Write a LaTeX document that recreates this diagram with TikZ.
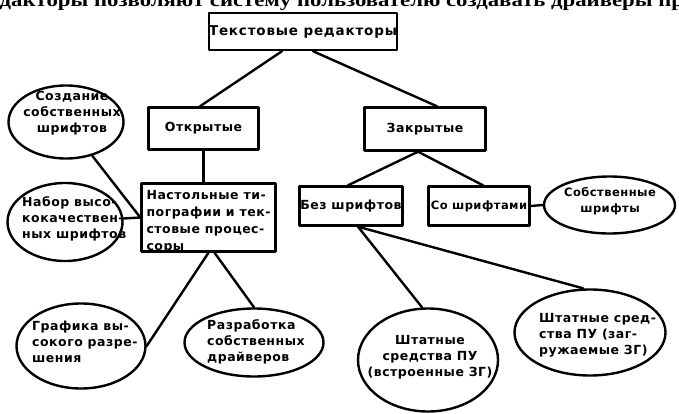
\documentclass[tikz,border=0pt]{standalone}
\usepackage{fontspec}
\usetikzlibrary{shapes.geometric}
\newfontfamily\plotfont{DejaVu Sans}[LetterSpace=4]
\newfontfamily\plotwide{DejaVu Sans}[LetterSpace=6]
\newfontfamily\pagefont{Liberation Serif}

\tikzset{
  ink/.style={line width=2.4pt, line join=round},
  box/.style={ink, draw, rectangle, inner sep=0pt,
              font=\plotfont\bfseries\fontsize{12.5}{17}\selectfont, align=left},
  oval/.style={ink, draw, ellipse, inner sep=0pt},
  lbl/.style={inner sep=0pt, font=\plotfont\bfseries\fontsize{12.5}{16}\selectfont},
  link/.style={ink, line cap=round},
}

\begin{document}
\begin{tikzpicture}[x=1pt, y=-1pt]
\useasboundingbox (0,0) rectangle (679,414);

% running text of the page, cut by the upper edge
\begin{scope}
  \clip (0,0) rectangle (679,414);
  \node[anchor=base west, inner sep=0pt] (pageline) at (-23,7)
    {\resizebox{720pt}{13pt}{\pagefont\bfseries редакторы позволяют систему пользователю создавать драйверы при}};
\end{scope}

% rectangular blocks
\node[box, minimum width=187pt, minimum height=37pt,
      font=\plotwide\bfseries\fontsize{13.5}{17}\selectfont] (top) at (303,31.5) {Текстовые редакторы};
\node[box, minimum width=110pt, minimum height=42pt] (open)     at (203.5,128.5) {Открытые};
\node[box, minimum width=121pt, minimum height=43pt] (closed)   at (425,129)   {Закрытые};
\node[box, minimum width=134pt, minimum height=66pt] (desk)     at (208.5,217.5)
  {\raisebox{-4pt}[\height][\depth]{\begin{tabular}{@{}l@{}}Настольные ти-\\пографии и тек-\\стовые процес-\\соры\end{tabular}}};
\node[box, minimum width=103pt, minimum height=39pt] (nofont)   at (351,206)   {Без шрифтов};
\node[box, minimum width=101pt, minimum height=39pt,
      font=\plotfont\bfseries\fontsize{11.5}{16}\selectfont] (withfont) at (479,206) {Со шрифтами};

% elliptic blocks
\node[oval, minimum width=115pt, minimum height=73pt]  (create)   at (66,122)    {};
\node[oval, minimum width=115pt, minimum height=78pt]  (set)      at (65,222)    {};
\node[oval, minimum width=129pt, minimum height=85pt]  (graph)    at (81,346)    {};
\node[oval, minimum width=139pt, minimum height=68pt]  (drivers)  at (254,342.5) {};
\node[oval, minimum width=140pt, minimum height=103pt] (builtin)  at (428,360)   {};
\node[oval, minimum width=151pt, minimum height=86pt]  (loadable) at (590,332.5) {};
\node[oval, minimum width=131pt, minimum height=57pt]  (ownfonts) at (609.5,205) {};

% texts of the elliptic blocks
\node[lbl, align=center]             (createtxt)   at (72,113)   {Создание\\собственных\\шрифтов};
\node[lbl, align=left, anchor=west]  (settxt)      at (22,219)   {Набор высо-\\кокачествен-\\ных шрифтов};
\node[lbl, align=left, anchor=west]  (graphtxt)    at (32,342)   {Графика вы-\\сокого разре-\\шения};
\node[lbl, align=left, anchor=west]  (driverstxt)  at (207,342)  {Разработка\\собственных\\драйверов};
\node[lbl, align=center]             (builtintxt)  at (430,357)  {Штатные\\средства ПУ\\(встроенные ЗГ)};
\node[lbl, align=left, anchor=west]  (loadabletxt) at (539,335)  {Штатные сред-\\ства ПУ (заг-\\ружаемые ЗГ)};
\node[lbl, align=center, font=\plotfont\bfseries\fontsize{11.5}{16}\selectfont]
                                     (ownfontstxt) at (610,201)  {Собственные\\шрифты};

% connectors
\draw[link] ([xshift=-21pt]top.south) -- ([xshift=-3.5pt]open.north);
\draw[link] ([xshift=10pt]top.south) -- ([xshift=12pt]closed.north);
\draw[link] (open.south) -- (open.south |- desk.north);
\draw[link] ([xshift=-7pt]closed.south) -- ([xshift=-3pt]nofont.north);
\draw[link] ([xshift=-7pt]closed.south) -- ([xshift=4pt]withfont.north);
\draw[link] (withfont.east) -- (ownfonts.west);
\draw[link] ([xshift=7pt]nofont.south) -- ([xshift=-6pt]builtin.north);
\draw[link] ([xshift=7pt]nofont.south) -- ([xshift=-7pt]loadable.north);
\draw[link] (desk.south) -- (graph.east);
\draw[link] ([xshift=6pt]desk.south) -- (drivers.north);
\draw[link] (create) -- (desk.west);
\draw[link] (set) -- (desk.west);
\end{tikzpicture}
\end{document}
